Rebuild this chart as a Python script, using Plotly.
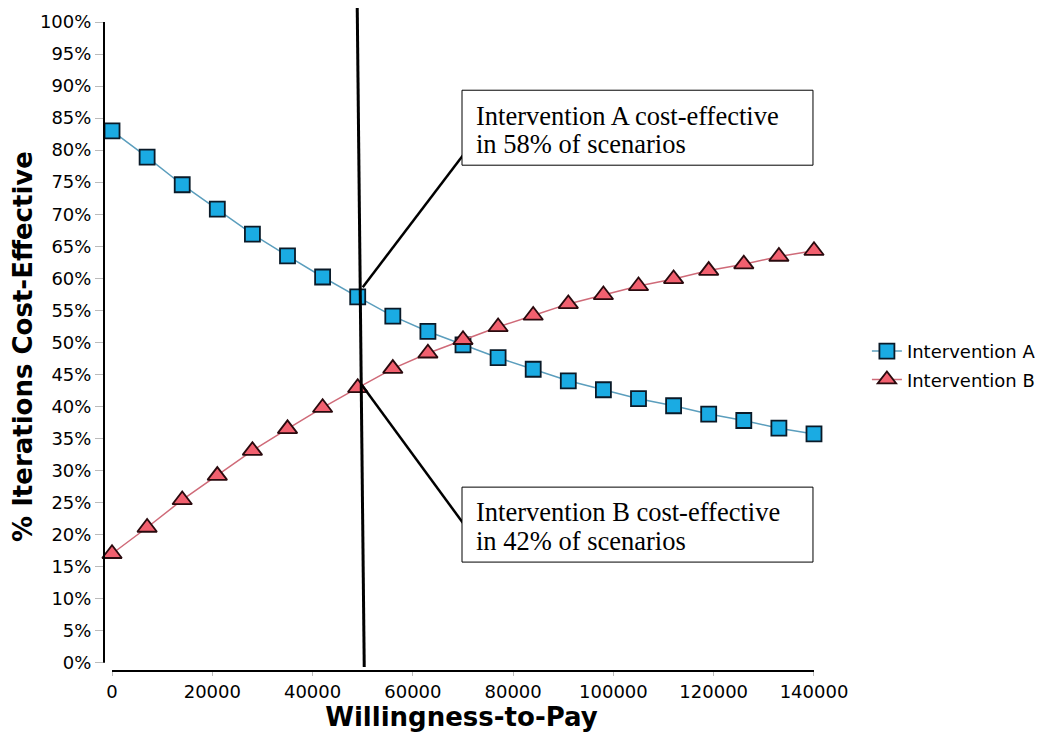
import plotly.graph_objects as go

wtp = [0, 7000, 14000, 21000, 28000, 35000, 42000, 49000, 56000, 63000, 70000,
       77000, 84000, 91000, 98000, 105000, 112000, 119000, 126000, 133000, 140000]
int_a = [83.0, 78.9, 74.6, 70.8, 66.9, 63.5, 60.2, 57.1, 54.1, 51.7, 49.6,
         47.6, 45.8, 44.0, 42.6, 41.2, 40.1, 38.8, 37.8, 36.6, 35.7]
int_b = [17.0, 21.1, 25.4, 29.2, 33.1, 36.5, 39.8, 42.9, 45.9, 48.3, 50.4,
         52.4, 54.2, 56.0, 57.4, 58.8, 59.9, 61.2, 62.2, 63.4, 64.3]
x_ticks = [0, 20000, 40000, 60000, 80000, 100000, 120000, 140000]
y_ticks = list(range(0, 101, 5))
threshold_top = 48900
threshold_bottom = 50300
label_a = ["Intervention A cost-effective", "in 58% of scenarios"]
label_b = ["Intervention B cost-effective", "in 42% of scenarios"]

fig = go.Figure()
fig.add_trace(go.Scatter(
    x=wtp, y=int_a, mode="lines+markers", name="Intervention A",
    legendgroup="a",
    line=dict(color="#5B9EBD", width=1.5),
    marker=dict(symbol="square", size=15, color="#1AABE3",
                line=dict(color="#0A1A28", width=1.8)),
    cliponaxis=False))
fig.add_trace(go.Scatter(
    x=wtp, y=int_b, mode="lines+markers", name="Intervention B",
    legendgroup="b",
    line=dict(color="#CF6A78", width=1.5),
    marker=dict(symbol="triangle-up", size=17, color="#F2606F",
                line=dict(color="#2A0A0E", width=1.8)),
    cliponaxis=False))

box_x0, box_x1 = 69800, 139800
box_a = (77.65, 89.35)
box_b = (15.7, 27.4)

shapes = [
    dict(type="line", xref="paper", yref="y", x0=0, x1=0, y0=0, y1=100,
         line=dict(color="black", width=2)),
    dict(type="line", xref="x", yref="paper", x0=0, x1=140000, y0=0, y1=0,
         line=dict(color="black", width=2)),
    dict(type="line", xref="x", yref="paper", x0=threshold_top, x1=threshold_bottom,
         y0=1.026, y1=0.006, line=dict(color="black", width=3)),
    dict(type="line", xref="x", yref="y", x0=50000, x1=70000, y0=58.6, y1=79.2,
         line=dict(color="black", width=2.5)),
    dict(type="line", xref="x", yref="y", x0=49860, x1=70000, y0=43.3, y1=21.8,
         line=dict(color="black", width=2.5)),
    dict(type="rect", xref="x", yref="y", x0=box_x0, x1=box_x1,
         y0=box_a[0], y1=box_a[1], line=dict(color="black", width=1),
         fillcolor="white", layer="above"),
    dict(type="rect", xref="x", yref="y", x0=box_x0, x1=box_x1,
         y0=box_b[0], y1=box_b[1], line=dict(color="black", width=1),
         fillcolor="white", layer="above"),
]

serif = dict(family="Liberation Serif", size=26.5, color="black")
annotations = []
for lines, ys in ((label_a, (85.4, 80.9)), (label_b, (23.5, 19.0))):
    for txt, yy in zip(lines, ys):
        annotations.append(dict(xref="x", yref="y", x=72200, y=yy,
                                xanchor="left", yanchor="middle", text=txt,
                                showarrow=False, font=serif))

# the page body has an 8px margin, so the figure is made 8px smaller
fig.update_layout(
    width=1050, height=724,
    margin=dict(l=96, r=239, t=14, b=61, autoexpand=False),
    paper_bgcolor="white", plot_bgcolor="white",
    font=dict(family="DejaVu Sans", size=18, color="black"),
    showlegend=True,
    legend=dict(x=1.067, y=0.521, xanchor="left", yanchor="top",
                font=dict(family="DejaVu Sans", size=18), itemwidth=30,
                traceorder="grouped", tracegroupgap=2,
                bgcolor="rgba(0,0,0,0)"),
    shapes=shapes, annotations=annotations,
    xaxis=dict(range=[-1600, 141000], tickvals=x_ticks,
               ticktext=[str(v) for v in x_ticks],
               showgrid=False, zeroline=False, showline=False,
               ticks="outside", ticklen=4, tickcolor="#BBBBBB",
               tickfont=dict(size=18), automargin=False,
               title=dict(text="<b>Willingness-to-Pay</b>",
                          font=dict(size=26, family="DejaVu Sans"), standoff=6)),
    yaxis=dict(range=[-1.3, 100], tickvals=y_ticks,
               ticktext=[f"{v}%" for v in y_ticks],
               showgrid=False, zeroline=False, showline=False,
               ticks="outside", ticklen=8, tickcolor="#BBBBBB",
               tickfont=dict(size=18), automargin=False,
               title=dict(text="<b>% Iterations Cost-Effective</b>",
                          font=dict(size=26, family="DejaVu Sans"), standoff=11)),
)

fig.write_html("out.html")
